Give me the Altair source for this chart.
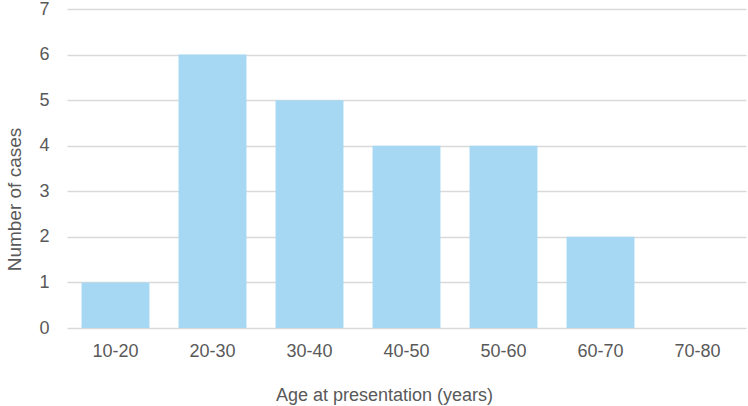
import altair as alt
import pandas as pd

categories = ["10-20", "20-30", "30-40", "40-50", "50-60", "60-70", "70-80"]
cases = [1, 6, 5, 4, 4, 2, 0]

df = pd.DataFrame({"age": categories, "cases": cases})

FONT = "Liberation Sans"
TXT = "#595959"

chart = alt.Chart(df).mark_bar(color="#a6d8f3").encode(
    x=alt.X("age:N", sort=categories, title="Age  at presentation (years)",
            scale=alt.Scale(paddingInner=0.3, paddingOuter=0.15),
            axis=alt.Axis(labelAngle=0, labelFontSize=18, labelColor=TXT,
                          labelFont=FONT, labelPadding=14,
                          ticks=False, domain=False, titleFontSize=18,
                          titleFont=FONT, titleFontWeight="normal",
                          titleColor=TXT, titleX=317, titleY=72,
                          titleAlign="center", titleBaseline="alphabetic")),
    y=alt.Y("cases:Q", title="Number of cases",
            scale=alt.Scale(domain=[0, 7]),
            axis=alt.Axis(values=list(range(8)), labelFontSize=18, labelColor=TXT,
                          labelFont=FONT, labelPadding=18,
                          ticks=False, domain=False, gridColor="#d9d9d9", gridWidth=1.5,
                          titleFontSize=19, titleFont=FONT,
                          titleFontWeight="normal", titleColor=TXT,
                          titleX=-53, titleY=190, titleAngle=270,
                          titleAlign="center", titleBaseline="middle")),
).properties(
    width=679, height=319,
    autosize=alt.AutoSizeParams(type="none"),
    padding={"left": 67, "top": 9, "right": 2, "bottom": 78},
).configure_view(stroke=None)

chart.save("out.html", embed_options={"renderer": "svg", "actions": False})
